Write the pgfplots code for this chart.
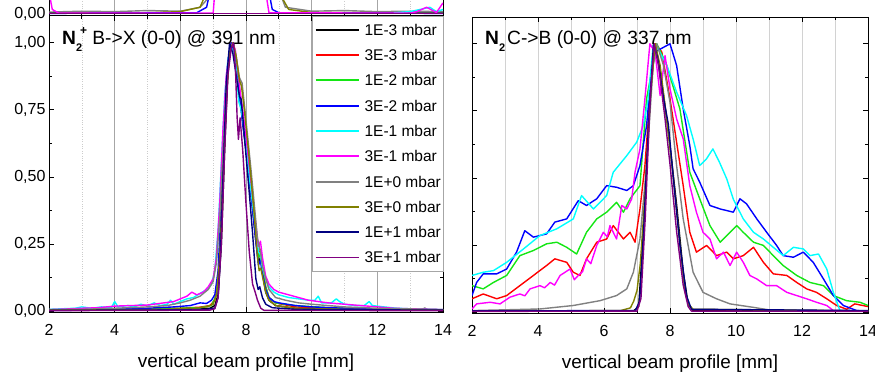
\documentclass[border=0pt]{standalone}
\usepackage{fontspec}
\setmainfont{Liberation Sans}
\usepackage{pgfplots}
\pgfplotsset{compat=1.18}
\definecolor{cred}{RGB}{255,0,0}
\definecolor{cgreen}{RGB}{20,230,20}
\definecolor{cblue}{RGB}{0,0,255}
\definecolor{ccyan}{RGB}{0,255,255}
\definecolor{cmag}{RGB}{255,0,255}
\definecolor{cgray}{RGB}{128,128,128}
\definecolor{colive}{RGB}{128,128,0}
\definecolor{cnavy}{RGB}{0,0,128}
\definecolor{cpurple}{RGB}{128,0,128}
\pgfplotsset{
  base/.style={scale only axis, anchor=south west, xmin=2, xmax=14, ymin=-0.004, ymax=1.1,
    tick align=inside, major tick length=5pt, minor tick length=3pt,
    xtick={2,4,...,14}, minor x tick num=1, ytick={0,0.25,...,1}, minor y tick num=1,
    tick style={black, line width=0.7pt},
    ticklabel style={font=\fontsize{16}{16}\selectfont},
    /pgf/number format/assume math mode=true,
    xticklabel style={anchor=base, yshift=-23pt},
    xlabel={vertical beam profile [mm]},
    xlabel style={font=\fontsize{18.9}{19}\selectfont, at={(axis description cs:0.5,0)}, anchor=base, yshift=-55pt},
    every axis plot/.append style={line width=1.4pt, no marks, line join=round}},
  yfmt/.style={yticklabel style={/pgf/number format/.cd, use comma, fixed, fixed zerofill, precision=2}},
}
\begin{document}
\begin{tikzpicture}
\path[use as bounding box] (0pt,0pt) rectangle (875pt,372pt);

% strip of the plot above
\begin{axis}[base, yfmt, at={(49pt,356pt)}, width=394pt, height=24pt, ymin=-0.01, ymax=0.1,
  ytick={0}, minor y tick num=0, xticklabels={}, xlabel={},
  xmajorgrids, xminorgrids, major grid style={gray!70, line width=0.6pt}, minor grid style={gray!40, dotted},
  axis line style={line width=1pt}]
\addplot[cgray] coordinates {(2,0.008)(3,0.012)(4,0.01)(5,0.015)(6,0.012)(6.6,0.03)(6.9,0.08)(7,0.15)};
\addplot[cgray] coordinates {(8.9,0.15)(9.2,0.03)(10,0.012)(11,0.015)(12,0.01)(13,0.012)(14,0.01)};
\addplot[colive] coordinates {(2,0.004)(5,0.005)(6,0.01)(6.6,0.03)(6.8,0.1)};
\addplot[colive] coordinates {(9.0,0.1)(9.3,0.02)(10,0.006)(14,0.004)};
\addplot[cblue] coordinates {(2,0.002)(6.5,0.005)(6.8,0.03)(6.9,0.1)};
\addplot[cblue] coordinates {(8.7,0.1)(8.8,0.02)(9,0.005)(14,0.002)};
\addplot[ccyan] coordinates {(12.5,0.005)(13,0.01)(13.6,0.03)(13.8,0.01)(14,0.02)};
\addplot[cmag] coordinates {(2,0.1)(2.1,0.02)(2.3,0.003)(7.0,0.003)(7.05,0.1)};
\addplot[cmag] coordinates {(8.6,0.1)(8.7,0.005)(13,0.003)(13.2,0.01)(13.5,0.03)(13.8,0.006)(14,0.05)};
\addplot[cpurple] coordinates {(2,0.001)(14,0.001)};
\end{axis}

% left panel
\begin{axis}[base, yfmt, at={(49pt,60pt)}, width=394pt, height=296pt,
  xmajorgrids, xminorgrids, major grid style={gray!70, line width=0.6pt}, minor grid style={gray!40, dotted},
  axis line style={line width=1pt},
  legend style={at={(1,1)}, anchor=north east, draw=gray!70, fill=white, inner xsep=2pt, inner ysep=8.1pt,
    row sep=14.3pt, column sep=5pt, font=\fontsize{15.5}{18}\selectfont,
    nodes={inner sep=0pt, text height=11pt, text depth=0pt}, cells={anchor=west}},
  legend image code/.code={\draw[#1, line width=1.9pt] (0pt,0pt) -- (43pt,0pt);}]
\addplot[black] coordinates {(2,0.003)(3,0.003)(4,0.004)(5,0.004)(6,0.005)(6.6,0.007)(6.9,0.01)(7.05,0.02)(7.15,0.06)(7.25,0.25)(7.35,0.6)(7.45,0.9)(7.55,0.99)(7.62,1.0)(7.7,0.93)(7.8,0.82)(7.9,0.7)(8.0,0.6)(8.1,0.49)(8.2,0.38)(8.3,0.26)(8.38,0.18)(8.44,0.2)(8.5,0.14)(8.6,0.07)(8.7,0.04)(8.9,0.02)(9.5,0.01)(10.5,0.007)(12,0.005)(13.3,0.004)(13.45,0.01)(13.55,0.003)(14,0.003)};
\addplot[cred] coordinates {(2,0.004)(3,0.005)(4,0.006)(5,0.008)(6,0.01)(6.6,0.014)(6.9,0.02)(7.05,0.04)(7.15,0.1)(7.25,0.3)(7.35,0.65)(7.45,0.92)(7.57,1.0)(7.65,0.98)(7.72,0.9)(7.8,0.82)(7.9,0.72)(8.0,0.62)(8.1,0.5)(8.2,0.39)(8.3,0.28)(8.38,0.2)(8.44,0.23)(8.5,0.16)(8.6,0.09)(8.7,0.05)(8.9,0.03)(9.5,0.015)(10.5,0.01)(12,0.006)(14,0.004)};
\addplot[cgreen] coordinates {(2,0.004)(3,0.005)(4,0.007)(5,0.008)(6,0.01)(6.6,0.012)(6.95,0.02)(7.1,0.06)(7.2,0.2)(7.3,0.5)(7.4,0.8)(7.5,0.96)(7.6,1.0)(7.7,0.92)(7.8,0.83)(7.9,0.73)(8.0,0.62)(8.1,0.51)(8.2,0.4)(8.3,0.28)(8.38,0.2)(8.44,0.21)(8.5,0.15)(8.6,0.09)(8.7,0.05)(8.9,0.03)(9.5,0.02)(10.5,0.012)(11.5,0.008)(12.5,0.005)(14,0.003)};
\addplot[cblue] coordinates {(2,0.003)(3,0.004)(4,0.006)(5,0.01)(5.8,0.015)(6.3,0.02)(6.6,0.03)(6.8,0.028)(6.95,0.04)(7.05,0.06)(7.15,0.15)(7.25,0.4)(7.35,0.7)(7.45,0.93)(7.55,1.0)(7.65,0.96)(7.72,0.88)(7.8,0.8)(7.9,0.7)(8.0,0.6)(8.1,0.49)(8.2,0.38)(8.3,0.26)(8.38,0.17)(8.44,0.19)(8.5,0.14)(8.6,0.08)(8.7,0.05)(8.85,0.035)(9.0,0.03)(9.5,0.02)(10,0.015)(11,0.01)(12,0.007)(14,0.004)};
\addplot[ccyan] coordinates {(2,0.006)(2.4,0.008)(2.8,0.01)(3.0,0.015)(3.3,0.01)(3.6,0.015)(3.9,0.012)(4.0,0.035)(4.1,0.015)(4.4,0.02)(4.6,0.015)(4.8,0.025)(5.0,0.018)(5.2,0.03)(5.4,0.02)(5.6,0.025)(5.7,0.04)(5.8,0.025)(6.0,0.035)(6.2,0.045)(6.4,0.05)(6.6,0.065)(6.8,0.08)(6.95,0.1)(7.05,0.15)(7.15,0.3)(7.25,0.55)(7.35,0.8)(7.45,0.94)(7.55,0.98)(7.62,0.97)(7.7,0.9)(7.78,0.78)(7.83,0.76)(7.9,0.72)(8.0,0.62)(8.1,0.5)(8.2,0.4)(8.3,0.3)(8.38,0.22)(8.44,0.21)(8.5,0.16)(8.6,0.12)(8.7,0.09)(8.85,0.07)(9.0,0.06)(9.3,0.05)(9.6,0.045)(9.9,0.04)(10.1,0.04)(10.2,0.055)(10.3,0.03)(10.6,0.03)(10.75,0.045)(10.85,0.035)(11.0,0.025)(11.3,0.02)(11.6,0.02)(11.75,0.035)(11.85,0.02)(12.2,0.015)(12.6,0.01)(13.0,0.008)(14,0.005)};
\addplot[cmag] coordinates {(2,0.005)(2.5,0.007)(3,0.01)(3.5,0.012)(4,0.018)(4.5,0.02)(5,0.022)(5.5,0.03)(5.8,0.035)(6.0,0.045)(6.2,0.055)(6.35,0.07)(6.5,0.06)(6.7,0.07)(6.85,0.09)(7.0,0.12)(7.1,0.2)(7.2,0.4)(7.3,0.68)(7.4,0.88)(7.5,0.97)(7.6,1.0)(7.68,0.97)(7.75,0.9)(7.82,0.82)(7.9,0.75)(8.0,0.65)(8.1,0.54)(8.2,0.43)(8.3,0.32)(8.38,0.24)(8.44,0.26)(8.5,0.2)(8.6,0.13)(8.7,0.1)(8.85,0.08)(9.0,0.07)(9.3,0.06)(9.6,0.05)(9.9,0.04)(10.2,0.035)(10.5,0.03)(11,0.025)(11.5,0.02)(12,0.015)(12.5,0.01)(13,0.008)(14,0.005)};
\addplot[cgray] coordinates {(2,0.005)(3,0.006)(4,0.01)(5,0.015)(5.6,0.02)(6.0,0.03)(6.3,0.04)(6.6,0.055)(6.85,0.08)(7.0,0.11)(7.1,0.18)(7.2,0.35)(7.3,0.6)(7.4,0.85)(7.5,0.97)(7.6,1.0)(7.7,0.95)(7.8,0.87)(7.88,0.85)(7.95,0.77)(8.05,0.65)(8.15,0.53)(8.25,0.4)(8.35,0.27)(8.44,0.22)(8.5,0.17)(8.6,0.12)(8.7,0.08)(8.9,0.05)(9.2,0.04)(9.6,0.03)(10,0.025)(11,0.015)(12,0.01)(14,0.005)};
\addplot[colive] coordinates {(2,0.003)(4,0.004)(5.5,0.006)(6.4,0.01)(6.8,0.015)(7.0,0.025)(7.1,0.06)(7.2,0.2)(7.3,0.5)(7.4,0.8)(7.5,0.96)(7.6,1.0)(7.7,0.95)(7.8,0.86)(7.86,0.84)(7.95,0.75)(8.05,0.63)(8.15,0.5)(8.25,0.36)(8.35,0.2)(8.4,0.15)(8.45,0.16)(8.5,0.13)(8.6,0.07)(8.7,0.04)(8.9,0.02)(9.5,0.01)(11,0.006)(14,0.003)};
\addplot[cnavy] coordinates {(2,0.002)(4,0.003)(6,0.004)(6.8,0.006)(7.05,0.01)(7.15,0.05)(7.22,0.2)(7.3,0.5)(7.4,0.85)(7.5,1.0)(7.6,0.96)(7.7,0.88)(7.8,0.8)(7.85,0.79)(7.92,0.7)(8.0,0.58)(8.1,0.44)(8.2,0.29)(8.3,0.12)(8.37,0.08)(8.42,0.09)(8.5,0.05)(8.6,0.025)(8.8,0.012)(9.5,0.006)(12,0.004)(14,0.003)};
\addplot[cpurple] coordinates {(2,0.001)(5,0.002)(6.9,0.003)(7.05,0.008)(7.15,0.05)(7.25,0.25)(7.35,0.6)(7.45,0.88)(7.55,0.98)(7.62,1.0)(7.68,0.9)(7.73,0.72)(7.77,0.64)(7.82,0.72)(7.9,0.6)(8.0,0.4)(8.1,0.22)(8.2,0.1)(8.28,0.07)(8.35,0.04)(8.45,0.01)(8.55,0.002)(14,0.001)};
\legend{1E-3 mbar, 3E-3 mbar, 1E-2 mbar, 3E-2 mbar, 1E-1 mbar, 3E-1 mbar, 1E+0 mbar, 3E+0 mbar, 1E+1 mbar, 3E+1 mbar}
\end{axis}

% right panel
\begin{axis}[base, at={(472pt,59pt)}, width=396pt, height=296pt, yticklabels={},
  xmajorgrids, xminorgrids, major grid style={gray!35, line width=0.6pt}, minor grid style={gray!35, line width=0.6pt},
  axis line style={line width=0.7pt}]
\addplot[black] coordinates {(2,0.003)(6.9,0.004)(7.05,0.02)(7.2,0.3)(7.35,0.7)(7.5,0.98)(7.55,1.0)(7.7,0.9)(7.9,0.72)(8.0,0.62)(8.2,0.4)(8.4,0.15)(8.55,0.03)(8.7,0.005)(14,0.003)};
\addplot[cred] coordinates {(2.0,0.049)(2.34,0.067)(2.75,0.049)(3.05,0.061)(3.45,0.098)(3.86,0.136)(4.26,0.173)(4.51,0.198)(4.87,0.185)(5.07,0.148)(5.27,0.136)(5.47,0.198)(5.78,0.26)(6.08,0.272)(6.28,0.322)(6.59,0.272)(6.79,0.297)(6.94,0.26)(7.09,0.384)(7.24,0.546)(7.39,0.795)(7.55,1.0)(7.75,0.97)(8.0,0.795)(8.2,0.633)(8.4,0.471)(8.6,0.297)(8.8,0.223)(9.11,0.248)(9.41,0.21)(9.72,0.223)(9.92,0.198)(10.22,0.21)(10.53,0.241)(10.83,0.185)(11.13,0.142)(11.54,0.136)(11.84,0.11)(12.14,0.086)(12.44,0.073)(12.75,0.049)(13.05,0.024)(13.35,0.01)(13.6,0.03)(14,0.02)};
\addplot[cgreen] coordinates {(2.0,0.098)(2.34,0.086)(2.65,0.11)(3.05,0.136)(3.45,0.21)(3.86,0.229)(4.26,0.254)(4.57,0.26)(4.87,0.241)(5.17,0.216)(5.47,0.297)(5.78,0.347)(6.08,0.372)(6.38,0.409)(6.59,0.372)(6.79,0.422)(7.09,0.471)(7.29,0.795)(7.6,1.0)(7.9,0.92)(8.3,0.757)(8.6,0.521)(8.9,0.422)(9.21,0.322)(9.52,0.26)(9.82,0.297)(10.02,0.322)(10.22,0.297)(10.53,0.26)(10.83,0.248)(11.13,0.21)(11.43,0.173)(11.84,0.136)(12.24,0.11)(12.65,0.098)(12.95,0.061)(13.35,0.042)(13.76,0.036)(14.0,0.024)};
\addplot[cblue] coordinates {(2.0,0.061)(2.14,0.11)(2.34,0.142)(2.75,0.142)(3.05,0.16)(3.35,0.223)(3.6,0.303)(3.86,0.279)(4.26,0.291)(4.51,0.335)(4.87,0.347)(5.22,0.415)(5.47,0.397)(5.78,0.422)(6.08,0.471)(6.38,0.465)(6.69,0.453)(6.89,0.471)(7.09,0.546)(7.29,0.695)(7.49,0.968)(7.7,0.98)(8.0,1.0)(8.2,0.919)(8.4,0.757)(8.6,0.62)(8.7,0.534)(8.9,0.484)(9.21,0.397)(9.52,0.384)(9.72,0.378)(9.92,0.372)(10.12,0.422)(10.32,0.403)(10.63,0.347)(10.93,0.297)(11.23,0.248)(11.43,0.21)(11.74,0.204)(12.04,0.223)(12.34,0.185)(12.65,0.123)(12.95,0.061)(13.25,0.024)(13.66,0.005)(14.0,0.003)};
\addplot[ccyan] coordinates {(2.0,0.136)(2.34,0.148)(2.65,0.154)(3.05,0.185)(3.56,0.235)(4.06,0.285)(4.57,0.31)(5.07,0.347)(5.32,0.434)(5.68,0.384)(6.08,0.434)(6.28,0.521)(6.69,0.583)(6.99,0.633)(7.19,0.695)(7.34,0.795)(7.49,0.994)(7.6,0.99)(7.9,0.92)(8.2,0.82)(8.5,0.733)(8.7,0.645)(8.9,0.546)(9.1,0.57)(9.3,0.608)(9.5,0.558)(9.72,0.496)(9.92,0.42)(10.22,0.347)(10.53,0.297)(10.83,0.272)(11.13,0.241)(11.43,0.21)(11.74,0.241)(12.04,0.235)(12.24,0.21)(12.5,0.216)(12.75,0.16)(12.95,0.073)(13.15,0.005)(14,0.003)};
\addplot[cmag] coordinates {(2.0,0.011)(2.14,0.03)(2.55,0.036)(2.85,0.03)(3.15,0.055)(3.45,0.067)(3.6,0.06)(3.76,0.086)(4.06,0.098)(4.2,0.09)(4.37,0.11)(4.5,0.1)(4.67,0.136)(4.97,0.16)(5.1,0.12)(5.22,0.136)(5.35,0.15)(5.47,0.198)(5.6,0.18)(5.78,0.248)(5.98,0.297)(6.1,0.28)(6.18,0.322)(6.38,0.272)(6.54,0.397)(6.69,0.384)(6.84,0.422)(6.94,0.521)(7.09,0.608)(7.24,0.795)(7.39,1.0)(7.55,0.968)(7.7,0.807)(7.85,0.956)(8.0,0.832)(8.2,0.72)(8.4,0.646)(8.6,0.471)(8.8,0.372)(9.0,0.297)(9.21,0.272)(9.41,0.198)(9.62,0.223)(9.82,0.173)(10.02,0.223)(10.22,0.185)(10.42,0.136)(10.63,0.123)(10.93,0.098)(11.23,0.098)(11.54,0.073)(11.84,0.061)(12.14,0.049)(12.44,0.036)(12.75,0.024)(12.95,0.005)(14,0.003)};
\addplot[cgray] coordinates {(2,0.005)(4.06,0.011)(5.07,0.024)(5.88,0.042)(6.38,0.061)(6.69,0.086)(6.89,0.148)(7.09,0.272)(7.29,0.546)(7.49,0.92)(7.6,1.0)(7.8,0.92)(8.0,0.782)(8.2,0.546)(8.4,0.347)(8.7,0.148)(9.0,0.073)(9.41,0.049)(9.82,0.03)(10.53,0.017)(11.13,0.005)(14,0.004)};
\addplot[colive] coordinates {(2,0.003)(6.5,0.005)(6.8,0.015)(6.9,0.04)(7.0,0.08)(7.1,0.18)(7.25,0.45)(7.4,0.8)(7.55,1.0)(7.7,0.92)(7.9,0.72)(8.1,0.5)(8.3,0.25)(8.45,0.08)(8.55,0.03)(8.7,0.01)(14,0.004)};
\addplot[cnavy] coordinates {(2,0.004)(6.95,0.005)(7.08,0.04)(7.2,0.3)(7.35,0.7)(7.5,1.0)(7.62,0.95)(7.8,0.8)(7.95,0.7)(8.1,0.5)(8.3,0.25)(8.5,0.06)(8.65,0.01)(14,0.005)};
\addplot[cpurple] coordinates {(2,0.002)(7.0,0.003)(7.12,0.05)(7.25,0.35)(7.4,0.8)(7.52,1.0)(7.65,0.92)(7.85,0.72)(8.0,0.55)(8.2,0.3)(8.4,0.1)(8.55,0.02)(8.65,0.003)(14,0.002)};
\end{axis}

\node[anchor=base west, inner sep=0pt, font=\fontsize{19.2}{19}\selectfont] at (62pt,327.7pt)
  {\textbf{N}\rlap{\raisebox{-7pt}{\fontsize{11}{11}\selectfont\bfseries 2}}\hspace{4pt}\raisebox{10pt}{\fontsize{12}{12}\selectfont\bfseries +}\ B->X (0-0) @ 391 nm};
\node[anchor=base west, inner sep=0pt, font=\fontsize{19.2}{19}\selectfont] at (485pt,327.7pt)
  {\textbf{N}\raisebox{-7pt}{\fontsize{11}{11}\selectfont\bfseries 2}\hspace{2pt}C->B (0-0) @ 337 nm};
\end{tikzpicture}
\end{document}
